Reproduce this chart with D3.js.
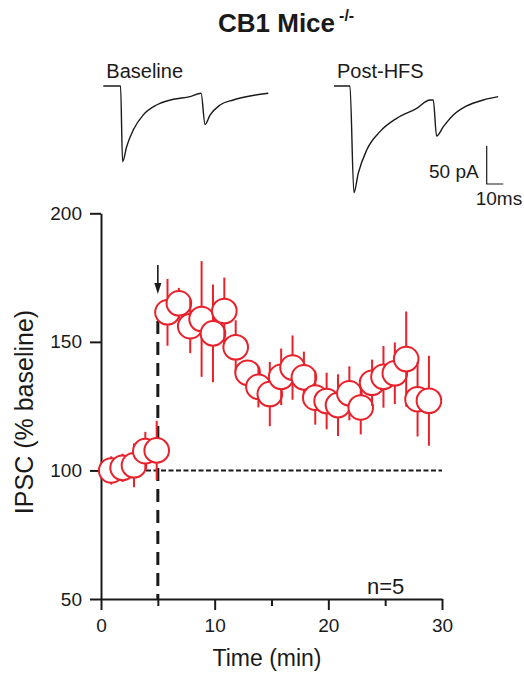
<!DOCTYPE html>
<meta charset="utf-8">
<script src="https://d3js.org/d3.v7.min.js"></script>
<style>
  body { margin: 0; background: #fff; }
  text { font-family: "Liberation Sans", Arial, sans-serif; fill: #1a1a1a; }
</style>
<body>
<div id="my_dataviz"></div>
<script>

// time points (min), mean IPSC (% baseline) and SEM
var times = [0.9, 1.9, 2.9, 3.9, 4.9, 5.85, 6.85, 7.85, 8.85, 9.85, 10.85, 11.85, 12.9, 13.85, 14.85,
  15.85, 16.85, 17.85, 18.85, 19.85, 20.85, 21.85, 22.85, 23.85, 24.85, 25.85, 26.85, 27.85, 28.85];
var means = [100, 101, 102, 107.5, 107.8, 161.5, 165, 156.1, 158.9, 153.3, 162, 147.9, 138, 132.5, 129.7,
  136.4, 140, 136.2, 128.3, 127, 125.4, 130, 124.5, 134.1, 136.4, 137.8, 143.3, 127.7, 127.1];
var sems = [5.5, 5.5, 8.5, 7.5, 11.5, 13, 6, 10.5, 22.5, 19, 13, 10.5, 4.5, 8, 12.5,
  11, 12.5, 10, 10.5, 11, 12, 10.5, 10.5, 9, 12, 12, 18.5, 14.5, 17.5];

var xTicks = [0, 10, 20, 30];
var xMinorTicks = [5, 15, 25];
var yTicks = [50, 100, 150, 200];
var hfsTime = 5;
var baselineLevel = 100;

// example current traces: [ms, pA]
var traceBaseline = [[0, 0], [10.4, 0], [11.6, -99.6], [14.1, -79.5], [18.1, -57.6], [24.1, -38],
  [32.1, -25], [42.2, -17.5], [52.2, -14], [58.9, -9.6], [61.3, -50.5], [64.3, -38.2], [70.3, -25],
  [78.3, -18.4], [88.4, -13.2], [99.4, -9.6]];
var tracePost = [[0, 0], [9.6, 0], [12.0, -140.4], [14.6, -115], [19.7, -84.2], [27.7, -60],
  [37.8, -42.5], [49.8, -29.4], [57.8, -18.4], [59.8, -18.4], [61.8, -65.8], [65.9, -53.5],
  [71.9, -38.2], [79.9, -26.3], [89.9, -18.4], [98.9, -14]];

var width = 524, height = 676;
var red = "#e8212b";

var svg = d3.select("#my_dataviz")
  .append("svg")
  .attr("width", width)
  .attr("height", height);

// title
var title = svg.append("text")
  .attr("x", 218)
  .attr("y", 32)
  .style("font-size", "26px")
  .style("font-weight", "bold")
  .text("CB1 Mice");
title.append("tspan")
  .attr("dx", 4)
  .attr("dy", -11)
  .style("font-size", "16px")
  .text("-/-");

// ---- example traces ----
var tx = d3.scaleLinear().domain([0, 100]).range([0, 166]);
var ty = d3.scaleLinear().domain([0, -50]).range([0, 38]);
var traceLine = d3.line()
  .x(function (d) { return tx(d[0]); })
  .y(function (d) { return ty(d[1]); })
  .curve(d3.curveMonotoneX);

var traces = [
  { name: "Baseline", data: traceBaseline, x0: 103.3, y0: 86 },
  { name: "Post-HFS", data: tracePost, x0: 334, y0: 86 }
];
traces.forEach(function (t) {
  var g = svg.append("g").attr("transform", "translate(" + t.x0 + "," + t.y0 + ")");
  g.append("path")
    .datum(t.data)
    .attr("d", traceLine)
    .attr("fill", "none")
    .attr("stroke", "#1a1a1a")
    .attr("stroke-width", 1.4);
  g.append("text")
    .attr("x", 3)
    .attr("y", -8)
    .style("font-size", "20px")
    .text(t.name);
});

// scale bar
var sb = svg.append("g").attr("transform", "translate(486.7,184)");
sb.append("path")
  .attr("d", "M0," + ty(-50) * -1 + "V0H" + tx(10))
  .attr("fill", "none")
  .attr("stroke", "#1a1a1a")
  .attr("stroke-width", 1.2);
sb.append("text")
  .attr("x", -8).attr("y", -6)
  .attr("text-anchor", "end")
  .style("font-size", "19px")
  .text("50 pA");
sb.append("text")
  .attr("x", -11).attr("y", 21)
  .style("font-size", "19px")
  .text("10ms");

// ---- time course ----
var x = d3.scaleLinear().domain([0, 30]).range([101, 442]);
var y = d3.scaleLinear().domain([50, 200]).range([599, 213.3]);

// baseline dotted line
svg.append("line")
  .attr("x1", x(0)).attr("x2", x(30))
  .attr("y1", y(baselineLevel)).attr("y2", y(baselineLevel))
  .attr("stroke", "#1a1a1a")
  .attr("stroke-width", 2)
  .attr("stroke-dasharray", "5,2.5");

// HFS dashed line
svg.append("line")
  .attr("x1", x(hfsTime)).attr("x2", x(hfsTime))
  .attr("y1", 321).attr("y2", y(50))
  .attr("stroke", "#1a1a1a")
  .attr("stroke-width", 3)
  .attr("stroke-dasharray", "13,8");

// arrow
svg.append("line")
  .attr("x1", x(hfsTime)).attr("x2", x(hfsTime))
  .attr("y1", 265).attr("y2", 285)
  .attr("stroke", "#1a1a1a")
  .attr("stroke-width", 1.6);
svg.append("path")
  .attr("d", "M" + (x(hfsTime) - 3.5) + ",283 L" + (x(hfsTime) + 3.5) + ",283 L" + x(hfsTime) + ",294 Z")
  .attr("fill", "#1a1a1a");

// axes
var yAxis = svg.append("g")
  .attr("transform", "translate(" + x(0) + ",0)")
  .call(d3.axisLeft(y).tickValues(yTicks).tickSize(11).tickSizeOuter(0).tickPadding(8));
var xAxis = svg.append("g")
  .attr("transform", "translate(0," + y(50) + ")")
  .call(d3.axisBottom(x).tickValues(xTicks).tickSize(11).tickSizeOuter(0).tickPadding(9));
svg.append("g")
  .attr("transform", "translate(0," + y(50) + ")")
  .call(d3.axisBottom(x).tickValues(xMinorTicks).tickSize(7).tickSizeOuter(0).tickFormat(""))
  .select(".domain").remove();

svg.selectAll(".domain, .tick line")
  .attr("stroke", "#1a1a1a")
  .attr("stroke-width", 2);
svg.selectAll(".tick text")
  .style("font-family", "\"Liberation Sans\", Arial, sans-serif")
  .style("font-size", "19px")
  .attr("fill", "#1a1a1a");

// error bars + circles
var pts = svg.append("g")
  .selectAll("g")
  .data(times.map(function (t, i) { return { t: t, m: means[i], e: sems[i] }; }))
  .enter().append("g");
pts.append("line")
  .attr("x1", function (d) { return x(d.t); })
  .attr("x2", function (d) { return x(d.t); })
  .attr("y1", function (d) { return y(d.m + d.e); })
  .attr("y2", function (d) { return y(d.m - d.e); })
  .attr("stroke", red)
  .attr("stroke-width", 2);
pts.append("circle")
  .attr("cx", function (d) { return x(d.t); })
  .attr("cy", function (d) { return y(d.m); })
  .attr("r", 12.3)
  .attr("fill", "#fff")
  .attr("stroke", red)
  .attr("stroke-width", 2);

// labels
svg.append("text")
  .attr("x", 367).attr("y", 594)
  .style("font-size", "22px")
  .text("n=5");

svg.append("text")
  .attr("x", 267).attr("y", 666)
  .attr("text-anchor", "middle")
  .style("font-size", "23px")
  .text("Time (min)");

svg.append("text")
  .attr("transform", "translate(33,412) rotate(-90)")
  .attr("text-anchor", "middle")
  .style("font-size", "25px")
  .text("IPSC (% baseline)");

</script>
</body>
